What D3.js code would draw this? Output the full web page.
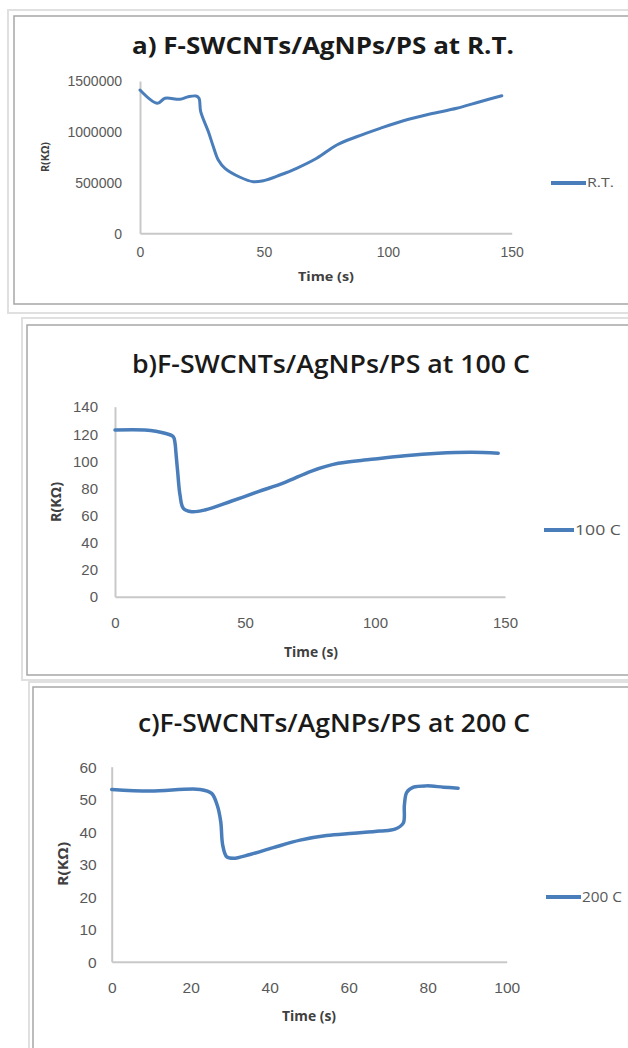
<!DOCTYPE html>
<html>
<head>
<meta charset="utf-8">
<script src="https://cdn.jsdelivr.net/npm/d3@7"></script>
<style>
  html, body { margin: 0; padding: 0; background: #fff; }
  svg { display: block; font-family: "Open Sans", "Liberation Sans", sans-serif; }
</style>
</head>
<body>
<svg id="chart" width="628" height="1048"></svg>
<script>
// ---------- DATA ----------
const timeA   = [0, 7.0, 10.1, 16.1, 19.5, 22.6, 23.8, 24.5, 27.6, 29.6, 31.6, 34.3, 40.4, 45.7, 49.8, 56.5, 63.2, 71.3, 79.4, 87.4, 96.9, 106.3, 117, 127.8, 137.2, 146];
const valuesA = [1411000, 1280000, 1330000, 1320000, 1345000, 1352000, 1330000, 1198000, 1000000, 853000, 722000, 640000, 552000, 508000, 518000, 574000, 640000, 739000, 870000, 951000, 1034000, 1109000, 1175000, 1231000, 1296000, 1355000];

const timeB   = [0, 11.5, 19.2, 22.4, 23.1, 23.4, 24.1, 25.0, 26.3, 29.5, 34.6, 44.9, 55.1, 65.4, 75.6, 85.9, 98.7, 111.5, 124.3, 137.2, 147.4];
const valuesB = [122.8, 122.8, 120.4, 117.9, 113, 106.9, 92.1, 75, 65.1, 62.6, 63.9, 70.5, 77.4, 84.3, 92.6, 98.3, 101.2, 103.9, 105.7, 106.4, 105.7];

const timeC   = [0, 9.7, 22.4, 25.3, 26.7, 27.6, 28.1, 29.1, 30.8, 35, 40.9, 47.7, 54.4, 61.2, 67.9, 71.7, 73.8, 74.1, 74.7, 76.4, 79.7, 84, 87.7];
const valuesC = [53.0, 52.5, 53.0, 51.8, 48.2, 43.1, 35.9, 32.3, 31.8, 33.0, 35.1, 37.4, 38.8, 39.5, 40.2, 40.8, 42.6, 48.2, 52.1, 53.7, 54.1, 53.7, 53.4];

const ticksAX = [0, 50, 100, 150];
const ticksAY = [0, 500000, 1000000, 1500000];
const ticksBX = [0, 50, 100, 150];
const ticksBY = [0, 20, 40, 60, 80, 100, 120, 140];
const ticksCX = [0, 20, 40, 60, 80, 100];
const ticksCY = [0, 10, 20, 30, 40, 50, 60];

const titles     = ["a) F-SWCNTs/AgNPs/PS at R.T.", "b)F-SWCNTs/AgNPs/PS at 100 C", "c)F-SWCNTs/AgNPs/PS at 200 C"];
const seriesNames = ["R.T.", "100 C", "200 C"];
const xTitle = "Time (s)";
const yTitle = "R(KΩ)";

// ---------- LAYOUT (positions / styles) ----------
const panels = [
  { time: timeA, values: valuesA, tx: ticksAX, ty: ticksAY, title: titles[0], name: seriesNames[0],
    outer: {x: 8, y: 10, b: 313}, inner: {x: 14, y: 16, b: 304},
    px0: 140, px1: 511.7, py0: 233.3, py1: 81,
    titleX: 323, titleY: 54, titleW: 382, titleSize: 23, titleWeight: 700,
    tickSize: 14, yGap: 18, xLabOff: 19,
    yLabX: 45, yLabY: 157, yLabSize: 11, yLabW: 30,
    xLabX: 326, xLabY: 277, xLabSize: 12, xLabW: 56,
    legX0: 551, legX1: 586, legY: 183, legTextW: 27, legSize: 12,
    lineW: 3 },
  { time: timeB, values: valuesB, tx: ticksBX, ty: ticksBY, title: titles[1], name: seriesNames[1],
    outer: {x: 22, y: 318, b: 680}, inner: {x: 27, y: 325, b: 675},
    px0: 115, px1: 505, py0: 596.7, py1: 406.7,
    titleX: 331, titleY: 373, titleW: 398, titleSize: 25, titleWeight: 600,
    tickSize: 15, yGap: 17, xLabOff: 26,
    yLabX: 56, yLabY: 502, yLabSize: 14, yLabW: 40,
    xLabX: 311, xLabY: 652, xLabSize: 14, xLabW: 54,
    legX0: 544, legX1: 574, legY: 530, legTextW: 46, legSize: 15,
    lineW: 3.5 },
  { time: timeC, values: valuesC, tx: ticksCX, ty: ticksCY, title: titles[2], name: seriesNames[2],
    outer: {x: 29, y: 682, b: 1060}, inner: {x: 33, y: 687, b: 1060},
    px0: 111.7, px1: 506.7, py0: 961.7, py1: 766.7,
    titleX: 334, titleY: 732, titleW: 392, titleSize: 26, titleWeight: 600,
    tickSize: 15.5, yGap: 15, xLabOff: 26,
    yLabX: 63, yLabY: 864, yLabSize: 15, yLabW: 44,
    xLabX: 309, xLabY: 1016, xLabSize: 14, xLabW: 54,
    legX0: 546, legX1: 581, legY: 897, legTextW: 40, legSize: 15,
    lineW: 3.5 }
];

const BLUE = "#4a7ebb";
const svg = d3.select("#chart");
svg.append("rect").attr("width", 628).attr("height", 1048).attr("fill", "#fff");

function fit(sel, w) { return sel.attr("textLength", w).attr("lengthAdjust", "spacingAndGlyphs"); }

panels.forEach(p => {
  const g = svg.append("g");
  // frames
  g.append("rect").attr("x", p.outer.x).attr("y", p.outer.y)
    .attr("width", 700).attr("height", p.outer.b - p.outer.y)
    .attr("fill", "none").attr("stroke", "#e0e0e0").attr("stroke-width", 2);
  g.append("rect").attr("x", p.inner.x).attr("y", p.inner.y)
    .attr("width", 700).attr("height", p.inner.b - p.inner.y)
    .attr("fill", "#fff").attr("stroke", "#a6a6a6").attr("stroke-width", 1.5);

  const xMax = p.tx[p.tx.length - 1];
  const yMax = p.ty[p.ty.length - 1];
  const x = d3.scaleLinear().domain([0, xMax]).range([p.px0, p.px1]);
  const y = d3.scaleLinear().domain([0, yMax]).range([p.py0, p.py1]);

  // title
  fit(g.append("text").attr("x", p.titleX).attr("y", p.titleY)
    .attr("text-anchor", "middle").attr("font-size", p.titleSize)
    .attr("font-weight", p.titleWeight).attr("fill", "#1a1a1a").text(p.title), p.titleW);

  // axes
  const yAxis = g.append("g").attr("transform", `translate(${p.px0},0)`)
    .call(d3.axisLeft(y).tickValues(p.ty).tickSize(0).tickSizeOuter(0).tickFormat(d3.format("d")));
  yAxis.select(".domain").attr("stroke", "#c8c8c8").attr("stroke-width", 2);
  yAxis.selectAll("text").attr("x", -p.yGap).attr("dy", "0.35em")
    .attr("font-size", p.tickSize).attr("fill", "#595959").attr("font-family", null);

  const xAxis = g.append("g").attr("transform", `translate(0,${p.py0})`)
    .call(d3.axisBottom(x).tickValues(p.tx).tickSize(0).tickSizeOuter(0).tickFormat(d3.format("d")));
  xAxis.select(".domain").attr("stroke", "#c8c8c8").attr("stroke-width", 2);
  xAxis.selectAll("text").attr("y", p.xLabOff).attr("dy", "0.35em")
    .attr("font-size", p.tickSize).attr("fill", "#595959").attr("font-family", null);

  // axis titles
  fit(g.append("text").attr("transform", `translate(${p.yLabX},${p.yLabY}) rotate(-90)`)
    .attr("text-anchor", "middle").attr("dy", "0.35em")
    .attr("font-size", p.yLabSize).attr("font-weight", 700).attr("fill", "#404040").text(yTitle), p.yLabW);
  fit(g.append("text").attr("x", p.xLabX).attr("y", p.xLabY).attr("dy", "0.35em")
    .attr("text-anchor", "middle").attr("font-size", p.xLabSize).attr("font-weight", 700)
    .attr("fill", "#404040").text(xTitle), p.xLabW);

  // series line (smoothed, like the spreadsheet's smoothed line)
  const data = p.time.map((t, i) => ({t, v: p.values[i]}));
  const line = d3.line().x(d => x(d.t)).y(d => y(d.v)).curve(d3.curveCatmullRom.alpha(0.5));
  g.append("path").datum(data).attr("d", line)
    .attr("fill", "none").attr("stroke", BLUE).attr("stroke-width", p.lineW)
    .attr("stroke-linejoin", "round").attr("stroke-linecap", "round");

  // legend
  g.append("line").attr("x1", p.legX0).attr("x2", p.legX1).attr("y1", p.legY).attr("y2", p.legY)
    .attr("stroke", BLUE).attr("stroke-width", 4);
  fit(g.append("text").attr("x", p.legX1 + 1).attr("y", p.legY).attr("dy", "0.35em")
    .attr("font-size", p.legSize).attr("fill", "#595959").text(p.name), p.legTextW);
});
</script>
</body>
</html>
